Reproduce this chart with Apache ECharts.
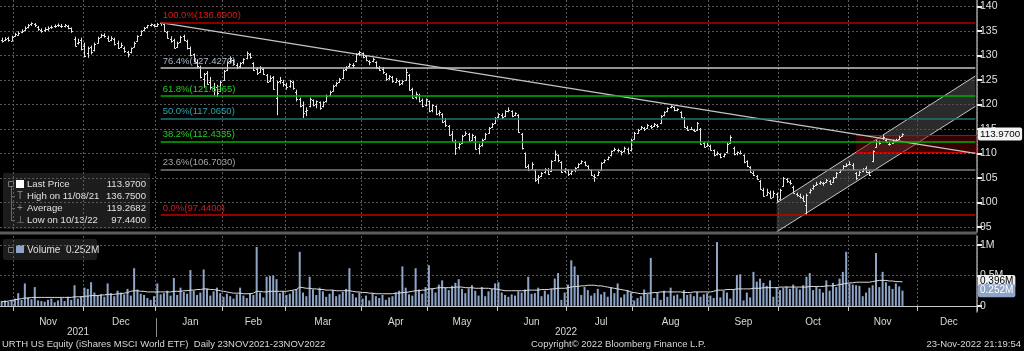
<!DOCTYPE html>
<html>
<head>
<meta charset="UTF-8">
<title>URTH US Equity</title>
<script src="https://cdn.jsdelivr.net/npm/echarts@6/dist/echarts.min.js"></script>
<style>
  html, body { margin: 0; padding: 0; background: #000; }
  #main { width: 1024px; height: 351px; }
</style>
</head>
<body>
<div id="main"></div>
<script type="text/javascript">
// trading calendar, weekends and exchange holidays skipped
var firstDay = '2021-10-26';
var lastDay = '2022-12-27';
var holidays = ['2021-11-25', '2021-12-24', '2022-01-17', '2022-02-21', '2022-04-15', '2022-05-30',
                '2022-06-20', '2022-07-04', '2022-09-05', '2022-11-24', '2022-12-26'];
var categories = [];
(function () {
    var d = new Date(firstDay + 'T00:00:00Z');
    var end = new Date(lastDay + 'T00:00:00Z');
    while (d <= end) {
        var s = d.toISOString().slice(0, 10);
        var wd = d.getUTCDay();
        if (wd !== 0 && wd !== 6 && holidays.indexOf(s) < 0) categories.push(s);
        d.setUTCDate(d.getUTCDate() + 1);
    }
})();

// daily bars, one entry per trading day from 26 Oct 2021
var opens = [133.2,133.1,133.5,133.0,134.0,134.2,134.7,135.2,135.7,136.3,
 136.3,135.8,135.2,135.1,135.3,135.7,135.9,136.1,136.0,136.0,
 135.9,135.5,133.4,132.6,133.2,132.0,130.4,131.8,131.0,132.6,
 133.8,134.1,133.6,133.2,133.4,132.6,131.8,131.6,130.6,130.6,
 131.8,132.9,134.2,135.2,135.7,136.1,136.2,136.0,136.5,136.4,
 134.8,133.4,133.2,131.8,132.8,133.9,133.0,131.6,130.2,128.6,
 127.6,125.2,126.4,124.6,123.4,123.6,122.8,125.0,127.0,128.8,
 129.0,128.0,127.8,128.6,129.4,130.2,128.4,127.2,126.6,127.2,
 126.0,124.8,125.6,121.4,124.8,124.6,124.0,123.8,124.6,122.6,
 121.2,119.8,118.6,119.6,120.8,120.0,120.4,119.6,120.6,121.9,
 122.8,124.0,124.6,125.4,127.2,127.8,128.0,128.8,130.4,130.4,
 129.8,128.8,128.8,128.6,127.4,127.2,126.2,125.4,125.6,124.6,
 124.8,124.4,125.0,126.0,123.2,121.6,122.0,120.8,119.8,120.6,
 118.8,119.6,118.2,118.0,116.6,115.6,114.0,112.4,111.4,112.2,
 113.8,114.0,112.8,113.4,111.2,111.8,113.0,114.2,115.4,116.2,
 117.4,117.8,117.6,118.6,118.6,117.8,117.8,114.0,110.0,107.4,
 106.8,106.6,104.8,105.4,106.2,106.6,106.4,108.6,109.6,108.2,
 106.4,106.6,106.0,106.6,107.2,108.0,108.2,107.4,106.6,105.4,
 105.6,106.6,108.2,108.8,109.6,110.6,110.8,110.4,110.4,111.0,
 110.6,113.0,114.2,115.0,115.2,115.2,115.6,115.6,115.8,116.2,
 117.8,118.6,119.4,119.4,118.8,118.4,117.2,115.2,115.0,114.8,
 114.8,115.0,112.2,111.6,111.6,110.6,109.8,109.8,109.4,110.2,
 112.2,111.2,110.0,110.0,109.6,108.4,107.2,106.0,105.4,104.4,
 102.6,101.6,102.0,101.2,101.8,100.8,103.4,104.8,104.2,103.2,
 101.8,101.4,101.0,99.4,102.2,103.0,103.6,104.0,104.0,104.2,
 104.4,104.2,105.2,106.2,106.8,107.4,107.8,107.6,106.0,105.6,
 106.4,107.0,106.2,108.4,111.4,112.4,113.2,112.8,112.0,112.2,
 112.6,113.0,113.6];
var highs = [133.6,133.7,133.8,134.0,134.6,134.9,135.3,135.9,136.4,136.75,
 136.6,136.0,135.5,135.7,135.9,136.1,136.3,136.5,136.4,136.4,
 136.2,135.7,133.8,133.4,133.6,132.6,131.8,132.0,132.6,133.8,
 134.4,134.5,134.0,133.9,133.6,133.0,132.6,131.8,130.9,131.6,
 132.8,134.1,135.1,135.8,136.2,136.5,136.4,136.6,136.69,136.5,
 135.0,133.9,133.4,132.8,134.0,134.2,133.2,131.8,130.4,129.2,
 127.9,126.4,126.8,125.6,124.4,124.0,124.8,127.0,128.8,129.8,
 129.2,128.4,128.6,129.4,130.8,130.5,128.6,127.6,127.8,127.4,
 126.2,125.9,125.8,124.8,125.6,125.0,124.4,125.0,124.8,123.0,
 121.4,120.6,119.4,121.4,121.0,120.8,120.6,120.6,122.0,122.8,
 124.0,124.6,125.4,127.2,127.8,128.4,128.4,130.4,130.9,130.6,
 130.0,129.0,129.5,128.8,127.8,127.6,126.4,126.0,125.8,125.4,
 125.0,125.0,127.4,126.2,123.4,122.6,122.2,121.2,121.2,120.8,
 120.0,119.8,118.8,118.2,117.2,115.8,114.6,112.8,112.2,113.8,
 114.5,114.2,114.0,113.6,112.0,113.0,114.2,115.4,116.2,117.4,
 118.2,118.2,118.8,119.4,118.8,118.4,118.0,114.2,110.2,107.8,
 108.2,106.8,105.6,106.2,107.0,107.0,108.6,110.6,109.8,108.4,
 107.0,106.8,106.6,107.2,108.0,108.6,108.4,107.6,106.8,105.8,
 106.4,108.2,108.8,109.4,110.6,111.2,111.0,110.6,111.4,111.2,
 113.0,114.4,115.0,115.6,115.4,116.0,115.8,116.2,116.0,117.8,
 118.6,119.4,119.8,119.6,119.2,118.6,117.4,115.6,115.4,115.0,
 116.4,115.2,112.4,112.2,111.8,110.8,110.4,110.0,110.0,112.2,
 113.7,111.4,110.4,110.6,109.8,108.6,107.4,106.4,105.6,104.6,
 103.0,102.8,102.4,102.4,102.0,102.8,105.2,105.0,104.6,103.4,
 102.0,101.8,101.4,101.8,102.8,103.6,104.2,104.4,104.2,104.8,
 104.6,105.2,106.2,106.8,107.6,108.0,108.4,108.0,106.2,106.4,
 107.0,107.4,106.4,110.6,112.8,112.6,113.8,113.0,112.4,112.8,
 113.0,113.6,114.1];
var lows = [132.6,132.9,132.8,132.9,133.8,134.0,134.5,135.0,135.5,136.0,
 135.8,135.0,134.6,134.8,135.0,135.4,135.6,135.8,135.6,135.7,
 135.3,134.6,131.8,132.2,131.0,129.6,129.5,130.2,130.8,132.4,
 133.6,133.6,132.8,132.9,132.0,131.3,131.5,130.5,129.6,130.4,
 131.6,132.8,134.0,135.0,135.5,135.9,135.7,135.8,136.0,134.8,
 133.4,132.6,131.4,131.5,132.6,132.9,131.2,129.8,128.6,127.4,
 125.3,123.4,124.0,123.0,121.8,121.5,122.6,124.8,126.8,128.4,
 127.9,127.2,127.4,128.2,129.2,129.3,126.8,126.0,126.4,126.0,
 124.4,124.6,123.0,117.8,124.2,123.6,123.0,123.4,123.0,120.6,
 119.4,117.2,117.6,119.4,119.6,119.2,118.9,119.4,120.4,121.6,
 122.6,123.6,124.4,125.2,126.8,127.6,127.4,128.6,129.9,129.4,
 128.8,128.0,128.6,127.2,126.8,126.2,124.8,125.0,124.4,124.4,
 123.8,124.0,124.8,122.8,121.2,121.0,120.4,119.4,119.6,118.4,
 118.4,117.8,117.6,116.2,115.4,113.6,112.4,109.7,110.8,112.0,
 113.6,112.4,112.6,110.8,109.8,111.4,112.8,114.0,115.2,116.0,
 117.2,117.0,117.4,118.4,117.4,117.6,114.2,110.8,107.0,106.4,
 106.6,104.2,103.8,105.2,105.9,105.6,106.2,108.4,108.2,106.0,
 106.0,105.4,105.6,106.2,107.0,107.8,107.4,106.6,105.4,104.2,
 105.4,106.4,108.0,108.6,109.4,110.4,110.2,109.6,110.2,109.8,
 110.4,112.8,114.0,114.8,114.6,115.0,115.0,115.4,115.2,116.0,
 117.6,118.4,119.2,118.6,118.6,117.2,115.2,114.6,114.8,114.4,
 114.6,111.8,111.2,111.4,110.6,109.4,109.6,109.0,109.2,110.0,
 112.0,109.6,109.6,109.8,108.0,107.2,106.0,105.4,104.6,102.6,
 101.2,101.4,100.8,101.0,100.2,100.6,103.2,104.0,103.6,101.8,
 101.2,100.8,100.2,97.44,101.8,102.6,103.4,103.6,103.4,104.0,
 103.6,104.0,105.0,106.0,106.6,107.2,107.6,106.6,104.6,105.4,
 106.2,106.0,105.4,108.2,111.2,111.8,112.8,112.2,111.6,112.0,
 112.4,112.8,113.4];
var closes = [133.0,133.4,133.2,133.8,134.3,134.6,135.0,135.6,136.2,136.5,
 136.1,135.3,135.0,135.4,135.6,135.8,136.0,136.2,135.9,136.1,
 135.6,134.9,132.0,132.8,131.2,129.8,131.5,130.6,132.3,133.6,
 134.2,133.9,133.0,133.6,132.4,131.6,132.2,130.8,130.2,131.4,
 132.6,134.0,135.0,135.6,136.1,136.3,136.0,136.4,136.6,135.0,
 133.6,133.0,131.6,132.6,133.8,133.2,131.4,130.0,128.8,127.8,
 125.6,126.2,124.2,123.6,123.2,122.4,124.6,126.8,128.6,129.4,
 128.2,127.6,128.4,129.2,130.4,129.6,127.0,126.4,127.4,126.2,
 124.6,125.4,123.2,124.6,125.0,124.2,123.6,124.8,123.4,121.0,
 119.6,118.2,118.8,121.2,119.8,120.6,119.2,120.4,121.8,122.6,
 123.8,124.4,125.2,127.0,127.6,128.2,128.0,130.2,130.6,129.6,
 129.0,128.6,129.2,127.6,127.0,126.6,125.2,125.8,124.8,125.0,
 124.2,124.8,126.6,123.0,121.4,122.2,120.6,119.6,121.0,118.6,
 119.8,118.0,118.4,116.4,115.8,113.8,112.6,111.2,112.0,113.6,
 114.2,112.6,113.8,111.0,111.6,112.8,114.0,115.2,116.0,117.2,
 118.0,117.4,118.6,118.8,117.6,118.2,114.4,111.2,107.2,106.6,
 107.8,104.6,105.2,106.0,106.8,105.8,108.4,109.8,108.6,106.2,
 106.8,105.8,106.4,107.0,107.8,108.4,107.6,106.8,105.6,105.2,
 106.2,108.0,108.6,109.2,110.4,111.0,110.6,110.2,111.2,110.0,
 112.8,114.2,114.8,115.4,115.0,115.8,115.4,116.0,115.6,117.6,
 118.4,119.2,119.6,118.8,119.0,117.4,115.4,114.8,115.0,114.6,
 116.2,112.0,111.4,111.8,110.8,109.6,110.0,109.2,109.8,112.0,
 113.4,109.8,110.2,110.0,108.2,107.4,106.2,105.6,104.8,102.8,
 101.4,102.2,101.0,102.0,100.4,102.6,105.0,104.4,104.0,102.0,
 101.6,101.2,100.4,101.6,102.6,103.4,103.8,104.2,104.0,104.6,
 103.8,105.0,106.0,106.6,107.4,107.6,107.8,106.8,105.0,106.2,
 106.8,106.2,105.6,110.4,112.6,112.2,113.4,112.4,112.0,112.6,
 112.8,113.4,113.97];

// volume in millions and its average
var volumes = [0.08,0.09,0.07,0.10,0.12,0.21,0.10,0.37,0.14,0.11,
 0.31,0.09,0.08,0.07,0.10,0.12,0.06,0.09,0.13,0.08,
 0.15,0.10,0.34,0.12,0.16,0.30,0.28,0.39,0.22,0.18,
 0.19,0.15,0.37,0.21,0.16,0.25,0.22,0.19,0.28,0.17,
 0.62,0.27,0.20,0.18,0.13,0.10,0.16,0.37,0.19,0.21,
 0.25,0.17,0.46,0.18,0.30,0.23,0.20,0.59,0.25,0.18,
 0.22,0.60,0.28,0.17,0.24,0.30,0.21,0.15,0.20,0.16,
 0.12,0.19,0.30,0.17,0.13,0.21,0.18,0.97,0.22,0.14,
 0.48,0.49,0.50,0.44,0.21,0.24,0.18,0.20,0.25,0.28,
 0.89,0.22,0.16,0.48,0.27,0.18,0.30,0.24,0.15,0.20,
 0.26,0.16,0.19,0.23,0.28,0.62,0.20,0.14,0.22,0.12,
 0.17,0.09,0.21,0.16,0.13,0.18,0.10,0.14,0.16,0.22,
 0.25,0.65,0.30,0.19,0.17,0.62,0.27,0.20,0.31,0.67,
 0.29,0.22,0.35,0.42,0.30,0.26,0.33,0.38,0.44,0.28,
 0.21,0.29,0.34,0.25,0.17,0.31,0.16,0.24,0.28,0.37,
 0.39,0.22,0.18,0.15,0.19,0.17,0.24,0.22,0.27,0.48,
 0.20,0.21,0.30,0.16,0.25,0.19,0.28,0.45,0.54,0.10,
 0.22,0.35,0.75,0.65,0.51,0.18,0.31,0.26,0.17,0.21,
 0.28,0.19,0.23,0.15,0.30,0.21,0.37,0.14,0.19,0.26,
 0.22,0.09,0.13,0.16,0.27,0.20,0.79,0.13,0.22,0.10,
 0.25,0.15,0.30,0.17,0.19,0.12,0.26,0.18,0.20,0.16,
 0.23,0.15,0.19,0.21,0.17,0.13,1.05,0.14,0.25,0.22,
 0.12,0.27,0.51,0.52,0.09,0.22,0.14,0.56,0.40,0.45,
 0.38,0.33,0.42,0.15,0.31,0.26,0.30,0.32,0.28,0.35,
 0.30,0.27,0.34,0.48,0.54,0.26,0.32,0.28,0.22,0.42,
 0.25,0.38,0.31,0.45,0.56,0.89,0.37,0.35,0.34,0.33,
 0.16,0.22,0.30,0.34,0.87,0.31,0.56,0.39,0.33,0.28,
 0.37,0.32,0.252];
var volumeAvg = [0.07,0.07,0.08,0.09,0.10,0.11,0.12,0.13,0.13,0.14,
 0.14,0.14,0.14,0.14,0.14,0.14,0.14,0.14,0.14,0.14,
 0.14,0.14,0.15,0.15,0.15,0.16,0.16,0.17,0.17,0.17,
 0.18,0.18,0.19,0.19,0.19,0.20,0.20,0.21,0.22,0.24,
 0.25,0.25,0.24,0.24,0.23,0.23,0.23,0.23,0.23,0.23,
 0.23,0.23,0.24,0.24,0.24,0.25,0.25,0.26,0.26,0.27,
 0.27,0.28,0.28,0.27,0.27,0.26,0.25,0.24,0.23,0.22,
 0.21,0.21,0.21,0.20,0.20,0.20,0.21,0.24,0.24,0.23,
 0.23,0.24,0.24,0.24,0.24,0.24,0.24,0.25,0.26,0.27,
 0.31,0.30,0.29,0.29,0.28,0.28,0.27,0.27,0.26,0.26,
 0.26,0.25,0.25,0.25,0.25,0.25,0.24,0.23,0.23,0.22,
 0.22,0.21,0.21,0.20,0.20,0.20,0.20,0.20,0.20,0.21,
 0.21,0.22,0.22,0.23,0.24,0.25,0.25,0.26,0.26,0.28,
 0.28,0.29,0.30,0.30,0.30,0.30,0.30,0.31,0.31,0.31,
 0.30,0.30,0.30,0.29,0.29,0.29,0.29,0.29,0.28,0.28,
 0.27,0.26,0.25,0.25,0.25,0.25,0.25,0.25,0.25,0.26,
 0.26,0.26,0.26,0.27,0.27,0.27,0.28,0.28,0.29,0.29,
 0.29,0.30,0.31,0.32,0.32,0.33,0.33,0.34,0.34,0.34,
 0.33,0.33,0.32,0.31,0.30,0.29,0.28,0.27,0.26,0.25,
 0.23,0.22,0.21,0.20,0.20,0.21,0.21,0.22,0.22,0.23,
 0.23,0.23,0.23,0.23,0.23,0.23,0.22,0.22,0.22,0.23,
 0.23,0.23,0.23,0.23,0.23,0.24,0.26,0.26,0.26,0.27,
 0.27,0.27,0.28,0.28,0.28,0.28,0.28,0.29,0.29,0.29,
 0.30,0.30,0.30,0.30,0.30,0.31,0.31,0.31,0.31,0.31,
 0.31,0.31,0.31,0.31,0.32,0.32,0.32,0.32,0.32,0.33,
 0.33,0.33,0.34,0.35,0.36,0.37,0.38,0.38,0.39,0.39,
 0.39,0.39,0.39,0.40,0.41,0.42,0.42,0.42,0.41,0.41,
 0.40,0.40,0.396];

// fibonacci retracement from the 4 Jan 2022 high to the 13 Oct 2022 low
var fibStart = 48;
var fibEnd = 294;
var fibPcts = ['100.0%', '76.4%', '61.8%', '50.0%', '38.2%', '23.6%', '0.0%'];
var fibValues = [136.69, 127.427, 121.6965, 117.065, 112.4335, 106.703, 97.44];
var fibLineColors = ['#b40000', '#c4c4c4', '#00b000', '#1c7479', '#00b000', '#7c7c7c', '#c40000'];
var fibTextColors = ['#e01818', '#aab4c6', '#22d022', '#2aa6ae', '#22d022', '#a4a4a4', '#e01818'];

// trend line and rising channel
var trendIdx = [48, 294];
var trendVals = [136.69, 110.0];
var chIdx = [234, 294];
var chUpper = [99.9, 125.8];
var chLower = [94.0, 119.6];
// red resistance zone
var zoneStart = 258;
var zoneTop = 113.75;
var zoneBottom = 110.35;

var priceTicks = [95, 100, 105, 110, 115, 120, 125, 130, 135, 140];
var volTicks = [0, 0.5, 1];
var lastPrice = 113.97;
var lastAvg = 0.396;
var lastVol = 0.252;

var monthNames = ['Jan', 'Feb', 'Mar', 'Apr', 'May', 'Jun', 'Jul', 'Aug', 'Sep', 'Oct', 'Nov', 'Dec'];
var monthStarts = {};
var monthLabels = {};
(function () {
    var starts = [];
    for (var i = 1; i < categories.length; i++) {
        if (categories[i].slice(0, 7) !== categories[i - 1].slice(0, 7)) starts.push(i);
    }
    for (var k = 0; k < starts.length; k++) {
        var e = k + 1 < starts.length ? starts[k + 1] : categories.length;
        monthStarts[starts[k]] = true;
        monthLabels[starts[k] + Math.floor((e - starts[k]) / 2)] = true;
    }
})();

var FONT = "'Liberation Sans', Arial, sans-serif";
var GRIDC = '#595959';
var myChart = echarts.init(document.getElementById('main'));

var ohlcRows = closes.map(function (c, i) { return [i, opens[i], c, lows[i], highs[i]]; });

function renderOhlc(params, api) {
    var i = api.value(0);
    var x = Math.round(api.coord([i, 0])[0]) + 0.5;
    var yo = Math.round(api.coord([i, api.value(1)])[1]) + 0.5;
    var yc = Math.round(api.coord([i, api.value(2)])[1]) + 0.5;
    var yl = api.coord([i, api.value(3)])[1];
    var yh = api.coord([i, api.value(4)])[1];
    var st = { stroke: '#e4e4e4', lineWidth: 1 };
    return {
        type: 'group',
        children: [
            { type: 'line', shape: { x1: x, y1: yh, x2: x, y2: yl }, style: st },
            { type: 'line', shape: { x1: x - 1.5, y1: yo, x2: x, y2: yo }, style: st },
            { type: 'line', shape: { x1: x, y1: yc, x2: x + 1.5, y2: yc }, style: st }
        ]
    };
}

function renderChannel(params, api) {
    var a1 = api.coord([chIdx[0], chUpper[0]]), a2 = api.coord([chIdx[1], chUpper[1]]);
    var b1 = api.coord([chIdx[0], chLower[0]]), b2 = api.coord([chIdx[1], chLower[1]]);
    var st = { stroke: '#c8c8c8', lineWidth: 1 };
    return {
        type: 'group',
        children: [
            { type: 'polygon', shape: { points: [a1, a2, b2, b1] }, style: { fill: 'rgba(78,78,78,0.55)' } },
            { type: 'line', shape: { x1: a1[0], y1: a1[1], x2: a2[0], y2: a2[1] }, style: st },
            { type: 'line', shape: { x1: b1[0], y1: b1[1], x2: b2[0], y2: b2[1] }, style: st }
        ]
    };
}

function renderZone(params, api) {
    var cs = params.coordSys;
    var x0 = api.coord([zoneStart, zoneTop])[0];
    var x1 = cs.x + cs.width;
    var yt = Math.round(api.coord([zoneStart, zoneTop])[1]) + 0.5;
    var yb = Math.round(api.coord([zoneStart, zoneBottom])[1]) + 0.5;
    var st = { stroke: '#c80000', lineWidth: 1 };
    return {
        type: 'group',
        children: [
            { type: 'rect', shape: { x: x0, y: yt, width: x1 - x0, height: yb - yt }, style: { fill: 'rgba(120,0,0,0.45)' } },
            { type: 'line', shape: { x1: x0, y1: yt, x2: x1, y2: yt }, style: st },
            { type: 'line', shape: { x1: x0, y1: yb, x2: x1, y2: yb }, style: st }
        ]
    };
}

// value tags sitting on the right axis
function axisTag(value, text, bg, fg, size) {
    return {
        yAxis: value,
        lineStyle: { color: 'rgba(0,0,0,0)', width: 0 },
        label: {
            show: true, position: 'end', distance: 1, formatter: text,
            backgroundColor: bg, color: fg, fontSize: size, fontFamily: FONT,
            padding: [2, 2, 1, 2], borderRadius: 2
        }
    };
}

var fibLines = fibValues.map(function (v, k) {
    return [
        {
            coord: [fibStart, v],
            lineStyle: { color: fibLineColors[k], width: 1.5, type: 'solid' },
            label: {
                show: true, position: 'insideStartTop', distance: 2,
                formatter: fibPcts[k] + '(' + v.toFixed(4) + ')',
                color: fibTextColors[k], fontSize: 9.5, fontFamily: FONT
            }
        },
        { coord: [fibEnd, v] }
    ];
});
fibLines.push(axisTag(lastPrice, lastPrice.toFixed(4), '#f4f4f4', '#000', 9.8));

var splitV = {
    show: true,
    interval: function (index) { return !!monthStarts[index]; },
    lineStyle: { color: GRIDC, type: [2, 2], width: 1 }
};

var option = {
    backgroundColor: '#000',
    animation: false,
    grid: [
        { left: 0, top: 0, width: 977, height: 232 },
        { left: 0, top: 236, width: 977, height: 76 }
    ],
    xAxis: [
        {
            type: 'category', gridIndex: 0, data: categories, boundaryGap: true,
            axisLine: { show: false }, axisTick: { show: false }, axisLabel: { show: false },
            splitLine: splitV
        },
        {
            type: 'category', gridIndex: 1, data: categories, boundaryGap: true,
            axisLine: { show: true, lineStyle: { color: '#c8c8c8', width: 1 } },
            axisTick: {
                show: true, length: 5, lineStyle: { color: '#c8c8c8' },
                interval: function (index) { return !!monthStarts[index]; }
            },
            axisLabel: {
                show: true, color: '#d8d8d8', fontSize: 10, fontFamily: FONT, margin: 5,
                interval: function (index) { return !!monthLabels[index]; },
                formatter: function (v) { return monthNames[parseInt(v.slice(5, 7), 10) - 1]; }
            },
            splitLine: splitV
        }
    ],
    yAxis: [
        {
            type: 'value', gridIndex: 0, position: 'right', min: 93.98, max: 141.29,
            axisLine: { show: true, lineStyle: { color: '#9c9c9c', width: 1.5 } },
            axisTick: { show: true, inside: false, length: 5, customValues: priceTicks, lineStyle: { color: '#eeeeee', width: 2 } },
            axisLabel: { customValues: priceTicks, color: '#e0e0e0', fontSize: 10.5, fontFamily: FONT, margin: 3 },
            splitLine: { show: true, lineStyle: { color: GRIDC, type: [2, 2] } }
        },
        {
            type: 'value', gridIndex: 1, position: 'right', min: -0.1, max: 1.15,
            axisLine: { show: true, lineStyle: { color: '#9c9c9c', width: 1.5 } },
            axisTick: { show: true, length: 5, customValues: volTicks, lineStyle: { color: '#eeeeee', width: 2 } },
            axisLabel: {
                customValues: volTicks, color: '#e0e0e0', fontSize: 10.5, fontFamily: FONT, margin: 3,
                formatter: function (v) { return v === 0 ? '0' : v + 'M'; }
            },
            splitLine: { show: true, lineStyle: { color: GRIDC, type: [2, 2] } }
        }
    ],
    series: [
        {
            name: 'channel', type: 'custom', xAxisIndex: 0, yAxisIndex: 0, z: 1, silent: true,
            data: [[chIdx[0], chUpper[0]]], renderItem: renderChannel
        },
        {
            name: 'zone', type: 'custom', xAxisIndex: 0, yAxisIndex: 0, z: 2, silent: true,
            data: [[zoneStart, zoneTop]], renderItem: renderZone
        },
        {
            name: 'trend', type: 'line', xAxisIndex: 0, yAxisIndex: 0, z: 3, silent: true,
            data: [[trendIdx[0], trendVals[0]], [trendIdx[1], trendVals[1]]],
            symbol: 'none', lineStyle: { color: '#c4c4c4', width: 1.2 },
            markLine: { silent: true, symbol: ['none', 'none'], animation: false, data: fibLines }
        },
        {
            name: 'Last Price', type: 'custom', xAxisIndex: 0, yAxisIndex: 0, z: 4,
            data: ohlcRows, encode: { x: 0, y: [1, 2, 3, 4] }, renderItem: renderOhlc
        },
        {
            name: 'Volume', type: 'bar', xAxisIndex: 1, yAxisIndex: 1, barWidth: 2,
            data: volumes, itemStyle: { color: '#8ea5c8' }
        },
        {
            name: 'Average', type: 'line', xAxisIndex: 1, yAxisIndex: 1, symbol: 'none',
            data: volumeAvg, lineStyle: { color: '#dcdcdc', width: 1 },
            markLine: {
                silent: true, symbol: ['none', 'none'], animation: false,
                data: [
                    axisTag(lastAvg, lastAvg + 'M', '#f0f0f0', '#000', 10),
                    axisTag(lastVol, lastVol + 'M', '#8ea5c8', '#fff', 10)
                ]
            }
        }
    ],
    graphic: [
        // panel separator
        { type: 'rect', z: 50, shape: { x: 0, y: 231.5, width: 977, height: 3 }, style: { fill: '#5c5c5c' } },
        // price legend
        {
            type: 'group', z: 100, children: [
                { type: 'rect', shape: { x: 3, y: 173, width: 147, height: 56, r: 2 }, style: { fill: '#1c1c1c' } },
                { type: 'rect', shape: { x: 8.5, y: 181.5, width: 5, height: 5 }, style: { fill: 'none', stroke: '#777' } },
                { type: 'rect', shape: { x: 16, y: 180, width: 8, height: 8 }, style: { fill: '#ffffff' } },
                { type: 'line', shape: { x1: 11.5, y1: 187, x2: 11.5, y2: 221 }, style: { stroke: '#666' } },
                { type: 'line', shape: { x1: 11.5, y1: 196.5, x2: 15, y2: 196.5 }, style: { stroke: '#666' } },
                { type: 'line', shape: { x1: 11.5, y1: 208.5, x2: 15, y2: 208.5 }, style: { stroke: '#666' } },
                { type: 'line', shape: { x1: 11.5, y1: 220.5, x2: 15, y2: 220.5 }, style: { stroke: '#666' } },
                { type: 'text', style: { x: 20, y: 196, text: 'T', fill: '#8a8a8a', font: '10px ' + FONT, align: 'center', verticalAlign: 'middle' } },
                { type: 'text', style: { x: 20, y: 208, text: '+', fill: '#8a8a8a', font: '10px ' + FONT, align: 'center', verticalAlign: 'middle' } },
                { type: 'text', style: { x: 20, y: 220, text: '\u22A5', fill: '#8a8a8a', font: '10px ' + FONT, align: 'center', verticalAlign: 'middle' } },
                { type: 'text', style: { x: 27, y: 184, text: 'Last Price', fill: '#e0e0e0', font: '9.6px ' + FONT, verticalAlign: 'middle' } },
                { type: 'text', style: { x: 27, y: 196, text: 'High on 11/08/21', fill: '#e0e0e0', font: '9.6px ' + FONT, verticalAlign: 'middle' } },
                { type: 'text', style: { x: 27, y: 208, text: 'Average', fill: '#e0e0e0', font: '9.6px ' + FONT, verticalAlign: 'middle' } },
                { type: 'text', style: { x: 27, y: 220, text: 'Low on 10/13/22', fill: '#e0e0e0', font: '9.6px ' + FONT, verticalAlign: 'middle' } },
                { type: 'text', style: { x: 146, y: 184, text: '113.9700', fill: '#e0e0e0', font: '9.6px ' + FONT, align: 'right', verticalAlign: 'middle' } },
                { type: 'text', style: { x: 146, y: 196, text: '136.7500', fill: '#e0e0e0', font: '9.6px ' + FONT, align: 'right', verticalAlign: 'middle' } },
                { type: 'text', style: { x: 146, y: 208, text: '119.2682', fill: '#e0e0e0', font: '9.6px ' + FONT, align: 'right', verticalAlign: 'middle' } },
                { type: 'text', style: { x: 146, y: 220, text: '97.4400', fill: '#e0e0e0', font: '9.6px ' + FONT, align: 'right', verticalAlign: 'middle' } }
            ]
        },
        // volume legend
        {
            type: 'group', z: 100, children: [
                { type: 'rect', shape: { x: 3, y: 239, width: 94, height: 21, r: 2 }, style: { fill: '#1c1c1c' } },
                { type: 'rect', shape: { x: 8.5, y: 247.5, width: 5, height: 5 }, style: { fill: 'none', stroke: '#777' } },
                { type: 'rect', shape: { x: 16, y: 245, width: 8, height: 8 }, style: { fill: '#8ea5c8' } },
                { type: 'text', style: { x: 27, y: 250, text: 'Volume  0.252M', fill: '#e0e0e0', font: '10px ' + FONT, verticalAlign: 'middle' } }
            ]
        },
        // years under the month labels
        { type: 'text', z: 100, style: { x: 78, y: 332, text: '2021', fill: '#d8d8d8', font: '10px ' + FONT, align: 'center', verticalAlign: 'middle' } },
        { type: 'text', z: 100, style: { x: 566, y: 332, text: '2022', fill: '#d8d8d8', font: '10px ' + FONT, align: 'center', verticalAlign: 'middle' } },
        { type: 'line', z: 100, shape: { x1: 156.5, y1: 318, x2: 156.5, y2: 337 }, style: { stroke: '#8a8a8a' } },
        // footer
        { type: 'text', z: 100, style: { x: 2, y: 344, text: 'URTH US Equity (iShares MSCI World ETF)  Daily 23NOV2021-23NOV2022', fill: '#d8d8d8', font: '9.5px ' + FONT, verticalAlign: 'middle' } },
        { type: 'text', z: 100, style: { x: 531, y: 344, text: 'Copyright\u00A9 2022 Bloomberg Finance L.P.', fill: '#d8d8d8', font: '9.5px ' + FONT, verticalAlign: 'middle' } },
        { type: 'text', z: 100, style: { x: 1021, y: 344, text: '23-Nov-2022 21:19:54', fill: '#d8d8d8', font: '9.5px ' + FONT, align: 'right', verticalAlign: 'middle' } }
    ]
};

myChart.setOption(option);
</script>
</body>
</html>
